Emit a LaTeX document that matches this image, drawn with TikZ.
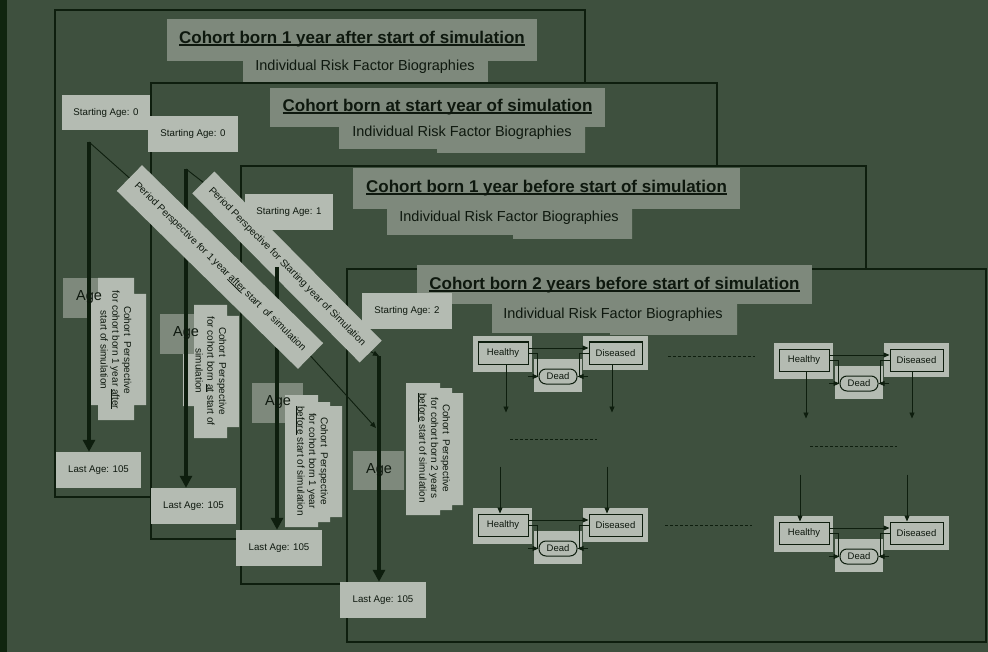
\documentclass[tikz,border=0pt]{standalone}
\usepackage{fontspec}
\setmainfont{Liberation Sans}
\usetikzlibrary{arrows.meta,calc}
\definecolor{bgc}{RGB}{62,80,62}
\definecolor{stripc}{RGB}{16,37,15}
\definecolor{linec}{RGB}{14,30,14}
\definecolor{midc}{RGB}{126,137,124}
\definecolor{lightc}{RGB}{180,187,178}
\definecolor{txtc}{RGB}{14,24,14}
% underline at a fixed depth below the baseline
\newcommand\uln[1]{\leavevmode\setbox0\hbox{#1}\rlap{\rule[-0.14em]{\wd0}{0.08em}}\box0\relax}
\begin{document}
\begin{tikzpicture}[x=1pt,y=-1pt,
  frame/.style={fill=bgc,draw=linec,line width=1.2pt},
  titletext/.style={text=txtc,font=\fontsize{17}{20}\selectfont\bfseries,inner sep=0pt},
  subtext/.style={text=txtc,font=\fontsize{14.5}{17}\selectfont,inner sep=0pt},
  agebox/.style={fill=lightc,text=txtc,font=\fontsize{9.7}{11}\selectfont,inner sep=0pt,minimum height=36pt},
  agetext/.style={text=txtc,font=\fontsize{14.5}{17}\selectfont,inner sep=0pt},
  cptext/.style={text=txtc,font=\fontsize{10}{11.8}\selectfont,align=center,inner sep=0pt,rotate=-90},
  band/.style={fill=lightc,text=txtc,font=\fontsize{10}{12}\selectfont,inner sep=0pt},
  axis/.style={draw=linec,line width=4pt,-{Triangle[width=12pt,length=12pt]}},
  thin/.style={draw=linec,line width=0.9pt},
  thinarrow/.style={thin,-{Triangle[width=5pt,length=6pt]}},
  state/.style={draw=linec,line width=1pt,fill=lightc,text=txtc,font=\fontsize{9.5}{11}\selectfont,inner sep=0pt,minimum height=22pt},
  deadst/.style={state,rounded corners=7pt,minimum width=38pt,minimum height=15pt},
  sline/.style={draw=linec,line width=0.9pt},
  sarrow/.style={sline,-{Triangle[width=5pt,length=6pt]}},
  dashline/.style={draw=linec,line width=0.9pt,dash pattern=on 3pt off 2pt}]
\useasboundingbox (0,0) rectangle (988,652);
\fill[bgc] (0,0) rectangle (988,652);
\fill[stripc] (0,0) rectangle (7,652);

% cohort born 1 year after start
\draw[frame] (55,10) rectangle (585,497);
\fill[midc] (167,19) rectangle (537,61);
\node[titletext] (t1) at (352,39) {\uln{Cohort born 1 year after start of simulation}};
\fill[midc] (243,58) rectangle (488,83);
\node[subtext] (s1) at (365,66.5) {Individual Risk Factor Biographies};
\node[agebox,minimum width=88pt,minimum height=35pt] (sa1) at (106,112.5) {Starting Age: 0};

% cohort born at start year
\draw[frame] (151,83) rectangle (717,539);
\fill[midc] (270,88) rectangle (605,127);
\node[titletext] (t2) at (437.5,107) {\uln{Cohort born at start year of simulation}};
\fill[midc] (339,125) rectangle (585,149) (437,127) rectangle (585,153);
\node[subtext] (s2) at (462,132.5) {Individual Risk Factor Biographies};
\node[agebox,minimum width=90pt] (sa2) at (193,134) {Starting Age: 0};

% cohort born 1 year before start
\draw[frame] (241,166) rectangle (866,584);
\fill[midc] (353,168) rectangle (740,209);
\node[titletext] (t3) at (546.5,188) {\uln{Cohort born 1 year before start of simulation}};
\fill[midc] (387,207) rectangle (632,235) (513,207) rectangle (632,239);
\node[subtext] (s3) at (509,218) {Individual Risk Factor Biographies};
\node[agebox,minimum width=88pt] (sa3) at (289,212) {Starting Age: 1};

% cohort born 2 years before start
\draw[frame] (347,269) rectangle (986,642);
\fill[midc] (417,265) rectangle (812,304);
\node[titletext] (t4) at (614.5,285) {\uln{Cohort born 2 years before start of simulation}};
\fill[midc] (492,304) rectangle (737,333) (610,304) rectangle (737,335);
\node[subtext] (s4) at (613,314.5) {Individual Risk Factor Biographies};
\node[agebox,minimum width=90pt] (sa4) at (407,311) {Starting Age: 2};

% last ages
\node[agebox,minimum width=85pt] (la1) at (98.5,470) {Last Age: 105};
\node[agebox,minimum width=85pt] (la2) at (193.5,506) {Last Age: 105};
\node[agebox,minimum width=86pt] (la3) at (279,548) {Last Age: 105};
\node[agebox,minimum width=86pt] (la4) at (383,600) {Last Age: 105};

% age labels behind the axes
\fill[midc] (63,278) rectangle (100,318);
\fill[midc] (160,314) rectangle (196,354);
\fill[midc] (252,383) rectangle (303,423);
\fill[midc] (353,451) rectangle (404,490);

% cohort perspective panels
\fill[lightc] (98,278) rectangle (134,420) (91,294) rectangle (146,405);
\node[cptext] (cp1) at (116,350) {Cohort\ \ Perspective\\for cohort born 1 year \uln{after}\\start of simulation};
\fill[lightc] (194,305) rectangle (227,438) (194,316) rectangle (239,427) (183,354) rectangle (194,406);
\node[cptext] (cp2) at (211,371) {Cohort\ \ Perspective\\for cohort born \uln{at} start of\\simulation};
\fill[lightc] (285,395) rectangle (318,527) (285,402) rectangle (330,522) (285,406) rectangle (342,517);
\node[cptext] (cp3) at (312,461) {Cohort\ \ Perspective\\for cohort born 1 year\\\uln{before} start of simulation};
\fill[lightc] (406,383) rectangle (440,515) (406,388) rectangle (452,510) (406,393) rectangle (463,505);
\node[cptext] (cp4) at (434,448) {Cohort\ \ Perspective\\for cohort born 2 years\\\uln{before} start of simulation};

% period perspective for the starting year
\node[band,minimum width=238pt,minimum height=31pt,rotate=-45.3] (band2) at (287,267) {Period Perspective for Starting year of Simulation};

% age axes
\coordinate (a1t) at (89,142);
\coordinate (a2t) at (186,169);
\coordinate (a3t) at (277,267);
\coordinate (a4t) at (379,356);
\coordinate (a4m) at (376,428);
\draw[axis] (a1t) -- (a1t |- la1.north);
\draw[axis] (a2t) -- (a2t |- la2.north);
\draw[axis] (a3t) -- (a3t |- la3.north);
\draw[axis] (a4t) -- (a4t |- la4.north);
\draw[thin] (a2t) -- (band2.west);

% period perspective one year after the start
\node[band,minimum width=254pt,minimum height=36pt,rotate=-44.5] (band1) at (220,267) {Period Perspective for 1 year \uln{after} start\ \ of simulation};
\draw[thin] (a1t) -- (band1.west);
\draw[thinarrow] (band1.east) -- (a4m);
\draw[thinarrow] (band2.east) -- (a4t);

% age captions
\node[agetext] (age1) at (89,297) {Age};
\node[agetext] (age2) at (186,333) {Age};
\node[agetext] (age3) at (278,402) {Age};
\node[agetext] (age4) at (379,470) {Age};

% health state models
\foreach \n/\bx/\by in {1/478/342,2/478/514,3/779/349,4/779/522}{
  \begin{scope}[shift={(\bx,\by)}]
    \fill[lightc] (-5,-6) rectangle (54,30);
    \fill[lightc] (105,-6) rectangle (170,28);
    \fill[lightc] (56,17) rectangle (104,50);
    \node[state,minimum width=50pt] (h\n) at (25,11) {Healthy};
    \node[state,minimum width=53pt] (d\n) at (137.5,11) {Diseased};
    \node[deadst] (x\n) at (80,34.5) {Dead};
    \draw[sarrow] (h\n.east |- 0,6) -- (d\n.west |- 0,6);
    \draw[sline] (h\n.east |- 0,11) -| (59,34.5);
    \draw[sarrow] (50,34.5) -- (x\n.west);
    \draw[sline] (d\n.west |- 0,11) -| (101,34.5);
    \draw[sarrow] (110,34.5) -- (x\n.east);
  \end{scope}
}
\draw[sarrow] ([xshift=3pt]h1.south) -- ++(0,48);
\draw[sarrow] ([xshift=-3.5pt]d1.south) -- ++(0,48);
\draw[sarrow] ([xshift=2pt]h3.south) -- ++(0,47);
\draw[sarrow] ([xshift=-4.5pt]d3.south) -- ++(0,47);
\draw[sarrow] ($(h2.north)+(-3,-47)$) -- ([xshift=-3pt]h2.north);
\draw[sarrow] ($(d2.north)+(-8.5,-47)$) -- ([xshift=-8.5pt]d2.north);
\draw[sarrow] ($(h4.north)+(-4,-47)$) -- ([xshift=-4pt]h4.north);
\draw[sarrow] ($(d4.north)+(-9.5,-47)$) -- ([xshift=-9.5pt]d4.north);
\draw[dashline] (510,439) -- (597,439);
\draw[dashline] (810,446) -- (897,446);
\draw[dashline] (668,356) -- (755,356);
\draw[dashline] (665,525) -- (752,525);
\end{tikzpicture}
\end{document}
